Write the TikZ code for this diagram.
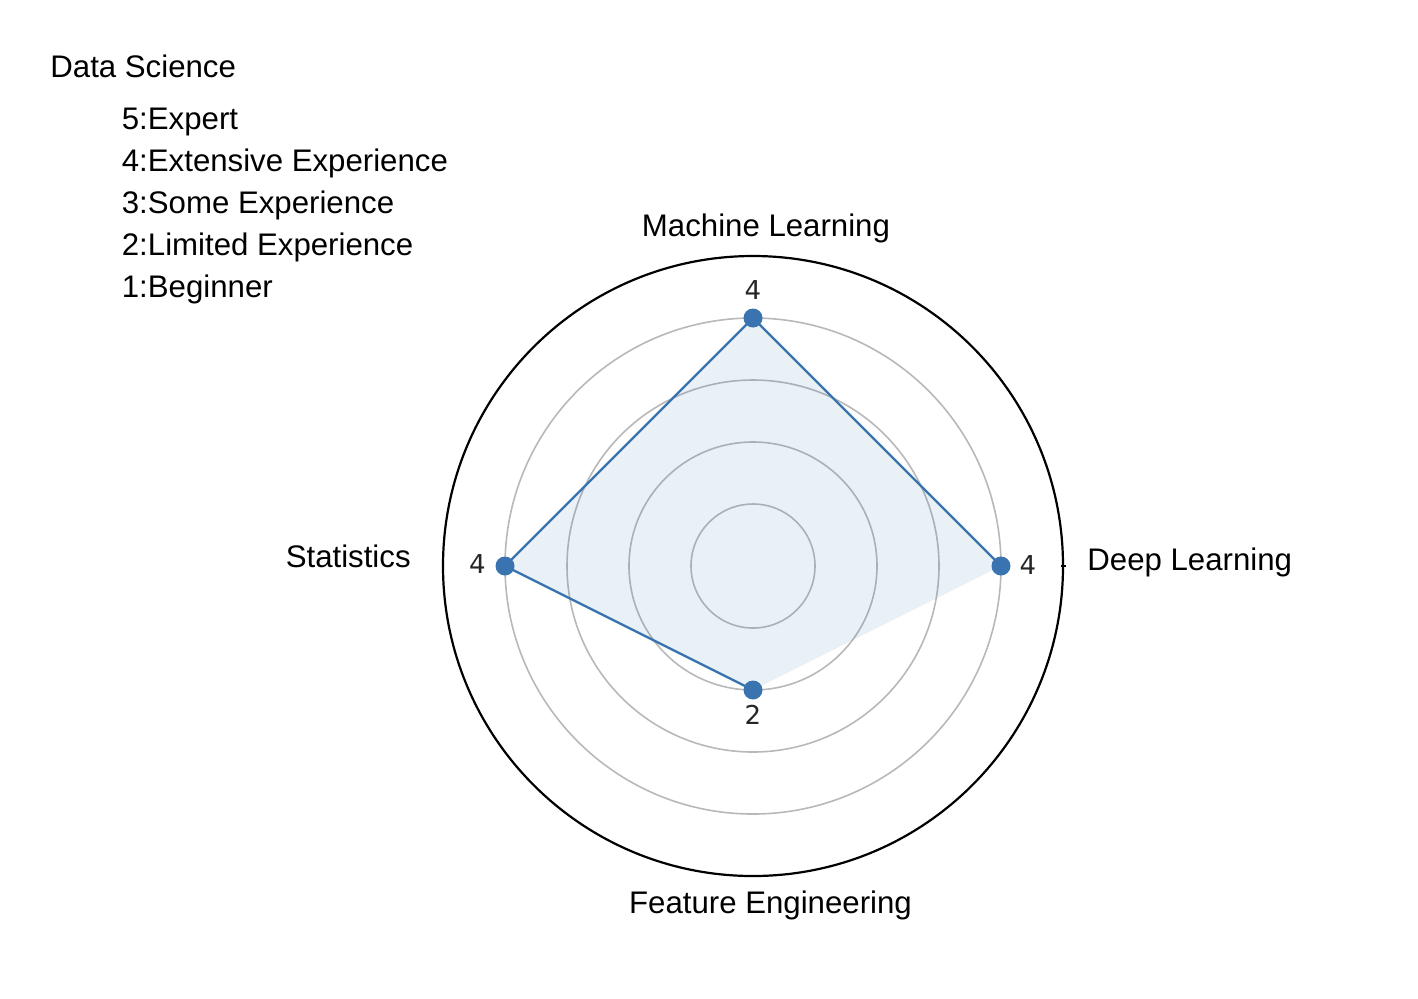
\documentclass[tikz,border=0pt]{standalone}
\usepackage{fontspec}
\setmainfont{Liberation Sans}
\newfontfamily\numfont{DejaVu Sans}
\definecolor{radarblue}{HTML}{3A74B0}
\definecolor{gridgray}{HTML}{B8B8B8}
\begin{document}
\begin{tikzpicture}[x=0.5pt,y=-0.5pt,
  labeltext/.style={inner sep=0pt,font=\fontsize{15.6}{21}\selectfont},
  valuetext/.style={inner sep=0pt,font=\numfont\fontsize{13}{15}\selectfont,text=black!85},
  ring/.style={draw=gridgray,line width=0.8pt},
  radar/.style={draw=radarblue,line width=1.15pt},
  area/.style={fill=radarblue,fill opacity=0.11},
  dot/.style={circle,fill=radarblue,inner sep=0pt,minimum size=9.5pt}]
\useasboundingbox (0,0) rectangle (1418,998);
\node (title) [labeltext,anchor=base west] at (50,77.3) {Data Science};
\node (levels) [labeltext,anchor=north west] at (121.5,99.9) {
\begin{tabular}{@{}l@{}}
 5:Expert \\
 4:Extensive Experience \\
 3:Some Experience \\
 2:Limited Experience \\
 1:Beginner \\
\end{tabular}
};
\coordinate (o) at (753,566);
\foreach \r in {1,...,4}
  \draw[ring] (o) circle[radius=62*\r];
\draw[line width=1.1pt] (o) circle[radius=310];
\draw[line width=0.8pt] (1061,566) -- (1066,566);
\coordinate (ml) at (753,318);
\coordinate (dl) at (1001,566);
\coordinate (fe) at (753,690);
\coordinate (stat) at (505,566);
\fill[area] (ml) -- (dl) -- (fe) -- (stat) -- cycle;
\draw[radar] (fe) -- (stat) -- (ml) -- (dl);
\foreach \p in {ml,dl,fe,stat}
  \node (\p dot) [dot] at (\p) {};
\node (mlval) [valuetext,anchor=base] at (753,299) {4};
\node (dlval) [valuetext,anchor=base] at (1028,574) {4};
\node (statval) [valuetext,anchor=base] at (477.5,573) {4};
\node (feval) [valuetext,anchor=base] at (753,724) {2};
\node (mllabel) [labeltext,anchor=base] at (766,236.7) {Machine Learning};
\node (dllabel) [labeltext,anchor=base west] at (1087,570) {Deep Learning};
\node (statlabel) [labeltext,anchor=base east] at (411,567.7) {Statistics};
\node (felabel) [labeltext,anchor=base] at (770.5,913) {Feature Engineering};
\end{tikzpicture}
\end{document}
